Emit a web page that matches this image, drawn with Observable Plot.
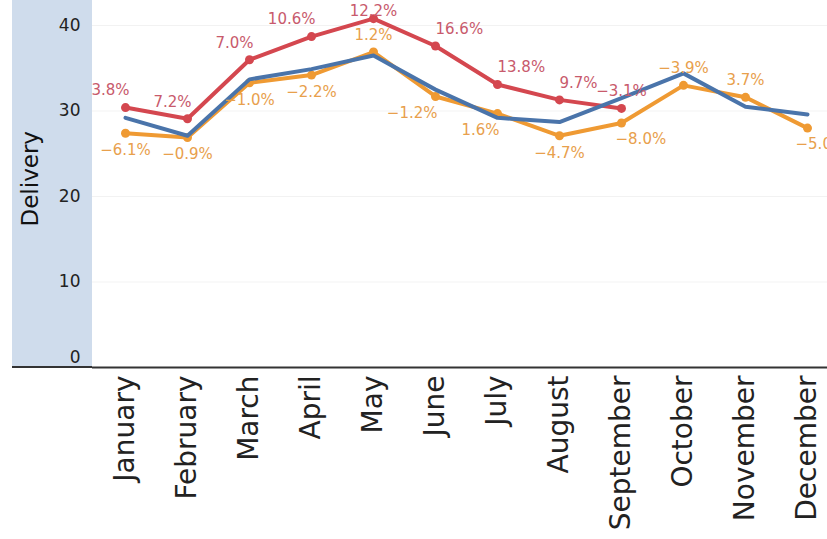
<!DOCTYPE html>
<html>
<head>
<meta charset="utf-8">
<script src="https://cdn.jsdelivr.net/npm/d3@7"></script>
<script src="https://cdn.jsdelivr.net/npm/@observablehq/plot@0.6"></script>
<style>
  html, body { margin: 0; padding: 0; background: #fff; }
  #wrap { position: relative; width: 827px; height: 539px; overflow: hidden; font-family: "DejaVu Sans", sans-serif; }
  #panel { position: absolute; left: 12px; top: 0; width: 80px; height: 366px; background: #cfdcec; border-bottom: 2px solid #333; }
  #chart { position: absolute; left: 0; top: 0; }
  #chart svg { overflow: visible; }
</style>
</head>
<body>
<div id="wrap"><div id="panel"></div><div id="chart"></div></div>
<script>
const months = ["January","February","March","April","May","June","July","August","September","October","November","December"];
const redValues = [30.4, 29.1, 36.0, 38.7, 40.8, 37.6, 33.1, 31.3, 30.3];
const blueValues = [29.2, 27.1, 33.7, 34.9, 36.5, 32.5, 29.2, 28.7, 31.5, 34.4, 30.5, 29.6];
const orangeValues = [27.4, 26.9, 33.3, 34.2, 36.9, 31.7, 29.7, 27.1, 28.6, 33.0, 31.6, 28.0];
const redLabels = ["3.8%","7.2%","7.0%","10.6%","12.2%","16.6%","13.8%","9.7%","\u22123.1%"];
const orangeLabels = ["\u22126.1%","\u22120.9%","\u22121.0%","\u22122.2%","1.2%","\u22121.2%","1.6%","\u22124.7%","\u22128.0%","\u22123.9%","3.7%","\u22125.0%"];
const yTicks = [10, 20, 30, 40];

// label placement hints (layout only)
const redPlace = ["nw","nw","nw","nw","top","ne","ne","ne","n"];
const orangePlace = ["s","s","s","s","n","sw","sw","s","se","n","n","edge"];

const placements = {
  n:    {textAnchor: "middle", dx: 0, dy: -17},
  top:  {textAnchor: "middle", dx: 0, dy: -7},
  nw:   {textAnchor: "end", dx: 4, dy: -17},
  ne:   {textAnchor: "start", dx: 0, dy: -17},
  s:    {textAnchor: "middle", dx: 0, dy: 17},
  sw:   {textAnchor: "end", dx: 2, dy: 17},
  se:   {textAnchor: "start", dx: -6, dy: 16},
  edge: {textAnchor: "start", dx: -12, dy: 16}
};

const red = redValues.map((v, i) => ({month: months[i], value: v, label: redLabels[i], place: redPlace[i]}));
const blue = blueValues.map((v, i) => ({month: months[i], value: v}));
const orange = orangeValues.map((v, i) => ({month: months[i], value: v, label: orangeLabels[i], place: orangePlace[i]}));

const RED = "#d4474f", BLUE = "#4a74aa", ORANGE = "#ef9a33";
const RED_TXT = "#c85a6c", ORANGE_TXT = "#e8a04c";

function labelMarks(data, color) {
  return Object.entries(placements).map(([code, p]) =>
    Plot.text(data.filter(d => d.place === code), {
      x: "month", y: "value", text: "label", fill: color,
      fontSize: 15, textAnchor: p.textAnchor, dx: p.dx, dy: p.dy
    })
  );
}

const chart = Plot.plot({
  width: 827,
  height: 539,
  marginLeft: 92,
  marginRight: 0,
  marginTop: 25,
  marginBottom: 172,
  style: {background: "transparent", fontFamily: "DejaVu Sans, sans-serif", color: "#222"},
  x: {type: "point", domain: months, range: [124, 807], padding: 0},
  y: {domain: [0, 40]},
  marks: [
    Plot.gridY(yTicks, {stroke: "#000", strokeOpacity: 0.05, strokeWidth: 1}),
    Plot.axisY(yTicks, {tickSize: 0, tickPadding: 12, fontSize: 17, label: null}),
    Plot.axisY([0], {tickSize: 0, tickPadding: 12, fontSize: 17, dy: -10, label: null}),
    Plot.ruleY([0], {stroke: "#333", strokeWidth: 2}),
    Plot.axisX({tickSize: 0, tickPadding: 8, tickRotate: -90, fontSize: 28, label: null}),
    Plot.text(["Delivery"], {frameAnchor: "left", rotate: -90, dx: -62, dy: 30, fontSize: 23, fill: "#111"}),
    Plot.line(red, {x: "month", y: "value", stroke: RED, strokeWidth: 4, strokeLinejoin: "round"}),
    Plot.dot(red, {x: "month", y: "value", fill: RED, r: 4.5}),
    Plot.line(orange, {x: "month", y: "value", stroke: ORANGE, strokeWidth: 4, strokeLinejoin: "round"}),
    Plot.dot(orange, {x: "month", y: "value", fill: ORANGE, r: 4.5}),
    Plot.line(blue, {x: "month", y: "value", stroke: BLUE, strokeWidth: 4, strokeLinejoin: "round"}),
    ...labelMarks(red, RED_TXT),
    ...labelMarks(orange, ORANGE_TXT)
  ]
});
document.getElementById("chart").appendChild(chart);
</script>
</body>
</html>
